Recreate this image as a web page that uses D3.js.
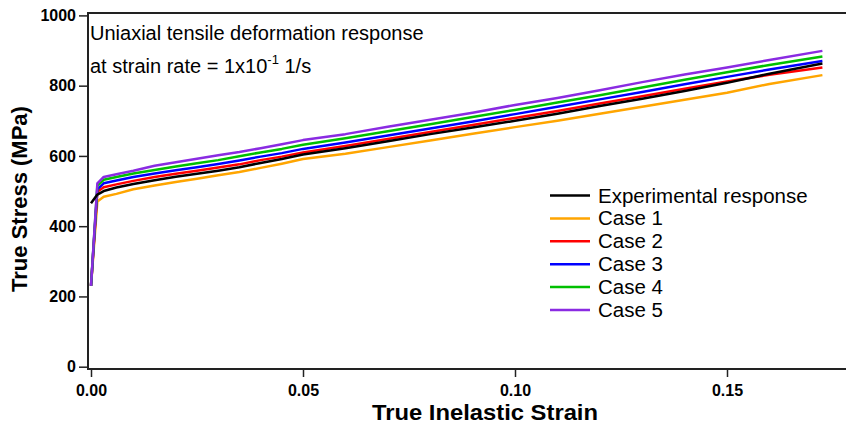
<!DOCTYPE html>
<html>
<head>
<meta charset="utf-8">
<script src="https://cdn.jsdelivr.net/npm/d3@7"></script>
<style>
  body { margin: 0; background: #fff; }
  svg { display: block; font-family: Arial, "Liberation Sans", sans-serif; }
</style>
</head>
<body>
<svg id="chart" width="846" height="425"></svg>
<script>
// strain values
const strain = [0, 0.0015, 0.003, 0.006, 0.01, 0.015, 0.02, 0.025, 0.03, 0.035, 0.04, 0.045, 0.05,
  0.06, 0.07, 0.08, 0.09, 0.10, 0.11, 0.12, 0.13, 0.14, 0.15, 0.16, 0.1725];

const experimental = [465, 490, 500, 510, 520, 531, 541, 549, 558, 568, 580, 591, 604,
  622, 642, 662, 681, 700, 720, 742, 763, 785, 808, 834, 863];
const case1 = [230, 470, 484, 492, 505, 516, 526, 535, 545, 554, 566, 578, 591,
  606, 625, 644, 663, 682, 700, 720, 740, 760, 780, 805, 830];
const case2 = [230, 498, 511, 519, 529, 540, 549, 558, 567, 576, 588, 598, 610,
  628, 648, 668, 688, 708, 728, 749, 770, 791, 812, 831, 852];
const case3 = [230, 505, 522, 530, 540, 550, 559, 568, 577, 587, 598, 608, 620,
  638, 658, 678, 698, 719, 740, 761, 782, 804, 825, 846, 870];
const case4 = [230, 515, 532, 540, 550, 560, 570, 579, 588, 599, 610, 620, 632,
  650, 670, 690, 711, 731, 752, 773, 795, 817, 838, 859, 883];
const case5 = [230, 522, 540, 548, 558, 572, 582, 592, 602, 611, 622, 633, 645,
  662, 683, 703, 723, 745, 765, 787, 810, 832, 852, 873, 899];

const seriesNames = ["Experimental response", "Case 1", "Case 2", "Case 3", "Case 4", "Case 5"];
const seriesColors = ["#000000", "#ffa500", "#ff0000", "#0000ff", "#00c000", "#8a2be2"];
const xTicks = [0, 0.05, 0.10, 0.15];
const yTicks = [0, 200, 400, 600, 800, 1000];

const allSeries = [experimental, case1, case2, case3, case4, case5];

const svg = d3.select("#chart");

const x = d3.scaleLinear().domain([0, 0.15]).range([91, 727]);
const y = d3.scaleLinear().domain([0, 1000]).range([366.7, 15.4]);

const frame = {left: 88, top: 13, bottom: 369, right: 900};

// plot frame
svg.append("rect")
  .attr("x", frame.left)
  .attr("y", frame.top)
  .attr("width", frame.right - frame.left)
  .attr("height", frame.bottom - frame.top)
  .attr("fill", "none")
  .attr("stroke", "#222")
  .attr("stroke-width", 2);

// y axis ticks
const yAxis = svg.append("g")
  .attr("transform", `translate(${frame.left - 1},0)`)
  .call(d3.axisLeft(y).tickValues(yTicks).tickFormat(d3.format("d")).tickSize(8).tickPadding(3));
yAxis.select(".domain").remove();
yAxis.selectAll("line").attr("stroke", "#222").attr("stroke-width", 1.5);
yAxis.selectAll("text")
  .attr("font-size", 16)
  .attr("font-weight", "bold")
  .attr("font-family", "Arial, 'Liberation Sans', sans-serif")
  .attr("fill", "#000");

// x axis ticks
const xAxis = svg.append("g")
  .attr("transform", `translate(0,${frame.bottom + 1})`)
  .call(d3.axisBottom(x).tickValues(xTicks).tickFormat(d3.format(".2f")).tickSize(7).tickPadding(8));
xAxis.select(".domain").remove();
xAxis.selectAll("line").attr("stroke", "#222").attr("stroke-width", 1.5);
xAxis.selectAll("text")
  .attr("font-size", 16)
  .attr("font-weight", "bold")
  .attr("font-family", "Arial, 'Liberation Sans', sans-serif")
  .attr("fill", "#000");

// curves, experimental drawn last so it sits on top
const line = d3.line()
  .x((d, i) => x(strain[i]))
  .y(d => y(d));

const curves = allSeries.map((s, i) => ({values: s, color: seriesColors[i]}));
svg.append("g")
  .selectAll("path")
  .data(curves.slice(1).concat([curves[0]]))
  .enter()
  .append("path")
  .attr("d", d => line(d.values))
  .attr("fill", "none")
  .attr("stroke", d => d.color)
  .attr("stroke-width", 2.5)
  .attr("stroke-linejoin", "round");

// annotation
const note = svg.append("g").attr("font-size", 20).attr("fill", "#000");
note.append("text")
  .attr("x", 90)
  .attr("y", 40)
  .text("Uniaxial tensile deformation response");
const note2 = note.append("text")
  .attr("x", 90)
  .attr("y", 73);
note2.append("tspan").text("at strain rate = 1x10");
note2.append("tspan").attr("font-size", 13).attr("dy", -9).text("-1");
note2.append("tspan").attr("dy", 9).text(" 1/s");

// legend
const legend = svg.append("g")
  .selectAll("g")
  .data(seriesNames)
  .enter()
  .append("g")
  .attr("transform", (d, i) => `translate(550, ${195.5 + i * 22.9})`);

legend.append("line")
  .attr("x1", 0)
  .attr("x2", 40)
  .attr("stroke", (d, i) => seriesColors[i])
  .attr("stroke-width", 2.5);

legend.append("text")
  .attr("x", 48)
  .attr("y", 7)
  .attr("font-size", 20.5)
  .attr("fill", "#000")
  .text(d => d);

// axis titles
svg.append("text")
  .attr("text-anchor", "middle")
  .attr("x", 485)
  .attr("y", 420)
  .attr("font-size", 22)
  .attr("font-weight", "bold")
  .attr("textLength", 226)
  .attr("lengthAdjust", "spacingAndGlyphs")
  .text("True Inelastic Strain");

svg.append("text")
  .attr("text-anchor", "middle")
  .attr("transform", "translate(27, 199) rotate(-90)")
  .attr("font-size", 22)
  .attr("font-weight", "bold")
  .text("True Stress (MPa)");
</script>
</body>
</html>
